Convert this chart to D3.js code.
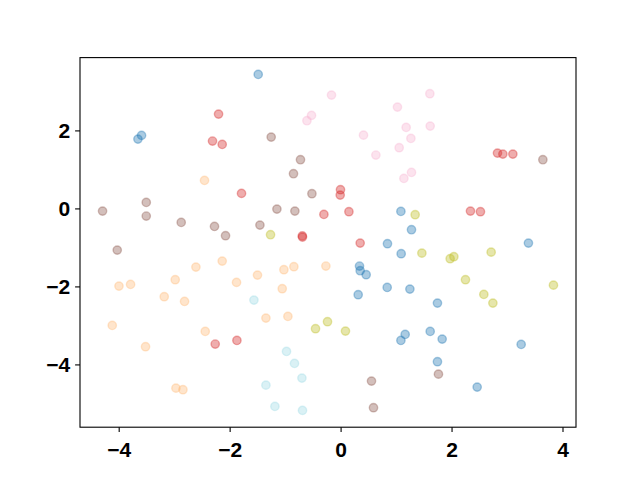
<!DOCTYPE html>
<html>
<head>
<meta charset="utf-8">
<script src="https://cdn.jsdelivr.net/npm/d3@7"></script>
<style>
  body { margin: 0; background: #fff; }
  .axis text { font-family: "Liberation Sans", Arial, sans-serif; font-weight: bold; font-size: 21px; fill: #000; }
  .axis line, .axis path { stroke: #000; stroke-width: 1.1; }
</style>
</head>
<body>
<svg id="chart"></svg>
<script>
// data, one array per group: [x, y]
const blue = [[-3.588, 1.872], [-3.653, 1.777], [-1.485, 3.436], [1.087, -0.077], [1.278, -0.546],
  [0.845, -0.905], [3.386, -0.890], [1.092, -1.162], [0.341, -1.479], [0.353, -1.597],
  [0.461, -1.700], [0.840, -2.026], [1.249, -2.069], [0.317, -2.213], [1.164, -3.231],
  [1.087, -3.385], [1.746, -2.428], [1.615, -3.154], [1.831, -3.351], [3.255, -3.487],
  [1.746, -3.931], [2.462, -4.582]];
const red = [[-2.200, 2.418], [-2.309, 1.726], [-2.134, 1.641], [-1.786, 0.385], [-0.002, 0.479],
  [-0.007, 0.341], [-0.301, -0.154], [0.150, -0.085], [-0.687, -0.736], [-0.690, -0.705],
  [0.353, -0.890], [2.828, 1.418], [2.925, 1.392], [3.105, 1.392], [2.341, -0.069],
  [2.521, -0.085], [-2.260, -3.479], [-1.869, -3.385]];
const brown = [[-4.291, -0.069], [-3.503, 0.154], [-3.503, -0.197], [-2.873, -0.359], [-2.273, -0.462],
  [-2.074, -0.700], [-1.251, 1.828], [-0.723, 1.249], [-0.849, 0.890], [-0.517, 0.377],
  [-1.148, -0.018], [-0.824, -0.069], [-1.454, -0.428], [3.646, 1.249], [-4.026, -1.069],
  [0.557, -4.428], [0.593, -5.110], [1.764, -4.249]];
const pink = [[-0.164, 2.905], [-0.524, 2.385], [-0.607, 2.249], [1.025, 2.597], [1.182, 2.077],
  [1.267, 1.795], [0.413, 1.879], [1.056, 1.556], [0.636, 1.367], [1.278, 0.923],
  [1.141, 0.769], [1.609, 2.941], [1.615, 2.110]];
const orange = [[-2.453, 0.718], [-2.134, -1.351], [-2.608, -1.505], [-2.981, -1.828], [-1.876, -1.897],
  [-3.995, -1.992], [-3.786, -1.949], [-3.179, -2.264], [-2.813, -2.385], [-4.116, -3.000],
  [-2.440, -3.154], [-3.516, -3.546], [-2.968, -4.608], [-2.842, -4.649], [-1.498, -1.710],
  [-1.022, -1.572], [-0.842, -1.495], [-0.265, -1.479], [-1.052, -2.059], [-1.346, -2.813],
  [-0.950, -2.769]];
const olive = [[-1.263, -0.674], [1.344, -0.162], [-0.452, -3.085], [-0.236, -2.905], [0.088, -3.146],
  [1.465, -1.146], [1.975, -1.290], [2.042, -1.238], [2.714, -1.121], [2.251, -1.828],
  [2.582, -2.205], [2.745, -2.428], [3.837, -1.967]];
const cyan = [[-1.562, -2.351], [-0.975, -3.667], [-0.831, -3.974], [-0.697, -4.351], [-1.346, -4.531],
  [-1.184, -5.077], [-0.687, -5.179]];

const groups = [
  { color: '#1f77b4', pts: blue },
  { color: '#ffbb78', pts: orange },
  { color: '#d62728', pts: red },
  { color: '#8c564b', pts: brown },
  { color: '#f7b6d2', pts: pink },
  { color: '#bcbd22', pts: olive },
  { color: '#9edae5', pts: cyan },
];

const xTicks = [-4, -2, 0, 2, 4];
const yTicks = [-4, -2, 0, 2];

const fullWidth = 640;
const fullHeight = 480;
const margin = { top: 57.6, right: 64, bottom: 52.8, left: 80 };
const width = fullWidth - margin.left - margin.right;
const height = fullHeight - margin.top - margin.bottom;

// matplotlib style 5% margins around the data
const all = groups.flatMap(g => g.pts);
const padded = (ext) => {
  const pad = (ext[1] - ext[0]) * 0.05;
  return [ext[0] - pad, ext[1] + pad];
};

const x = d3.scaleLinear()
    .domain(padded(d3.extent(all, d => d[0])))
    .range([0, width]);

const y = d3.scaleLinear()
    .domain(padded(d3.extent(all, d => d[1])))
    .range([height, 0]);

const svg = d3.select('#chart')
    .attr('width', fullWidth)
    .attr('height', fullHeight)
  .append('g')
    .attr('transform', `translate(${margin.left}, ${margin.top})`);

const fmt = d => (d < 0 ? '\u2212' + Math.abs(d) : String(d));

svg.append('g')
    .attr('class', 'axis')
    .attr('transform', `translate(0, ${height})`)
    .call(d3.axisBottom(x)
      .tickValues(xTicks)
      .tickFormat(fmt)
      .tickSizeInner(4.9)
      .tickSizeOuter(0)
      .tickPadding(4.9))
    .call(g => g.select('.domain').remove())
    .selectAll('text')
      .attr('dy', '0.93em');

svg.append('g')
    .attr('class', 'axis')
    .call(d3.axisLeft(y)
      .tickValues(yTicks)
      .tickFormat(fmt)
      .tickSizeInner(4.9)
      .tickSizeOuter(0)
      .tickPadding(4.9))
    .call(g => g.select('.domain').remove())
    .selectAll('text')
      .attr('dy', '0.36em');

// points
groups.forEach((g) => {
  svg.append('g')
    .selectAll('circle')
    .data(g.pts)
    .join('circle')
      .attr('cx', d => x(d[0]))
      .attr('cy', d => y(d[1]))
      .attr('r', 4.17)
      .attr('fill', g.color)
      .attr('fill-opacity', 0.38)
      .attr('stroke', g.color)
      .attr('stroke-opacity', 0.38)
      .attr('stroke-width', 1.39);
});

// frame
svg.append('rect')
    .attr('width', width)
    .attr('height', height)
    .attr('fill', 'none')
    .attr('stroke', '#000')
    .attr('stroke-width', 1.1);
</script>
</body>
</html>
